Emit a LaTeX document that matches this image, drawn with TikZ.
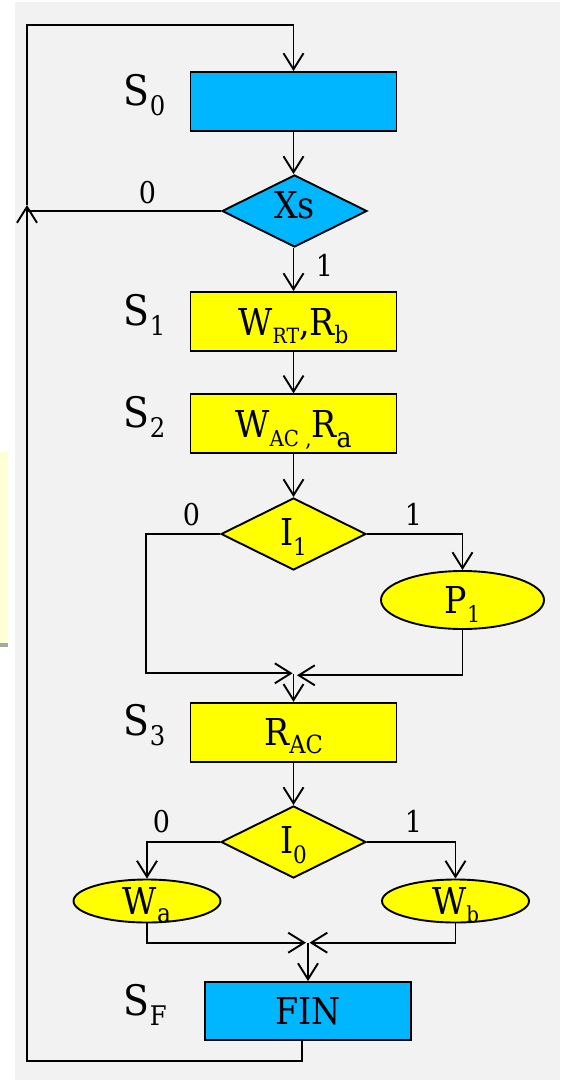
\documentclass[tikz,border=0pt]{standalone}
\usepackage{fontspec}
\setmainfont{DejaVu Serif Condensed}
\usetikzlibrary{arrows.meta,shapes.geometric}
\definecolor{bg}{HTML}{F2F2F2}
\definecolor{sky}{HTML}{00B7FF}
\definecolor{yel}{HTML}{FFFF00}
\definecolor{pale}{HTML}{FFFFD6}
\definecolor{edge}{HTML}{A8A8A8}
\newcommand\lowsub[3]{\raisebox{-#2pt}{\fontsize{#1}{#1}\selectfont #3}}
\begin{document}
\begin{tikzpicture}[x=1pt,y=-1pt,line width=1.9pt,
  arr/.style={-{Straight Barb[length=16pt,width=20pt]}},
  blk/.style={draw,minimum width=206pt,minimum height=59pt,inner sep=0pt,
    font=\fontsize{37}{40}\selectfont,text height=27pt,text depth=0pt},
  dia/.style={draw,diamond,aspect=2,minimum width=145pt,minimum height=72pt,inner sep=0pt,
    font=\fontsize{37}{40}\selectfont,text height=27pt},
  ell/.style={draw,ellipse,fill=yel,inner sep=0pt,
    font=\fontsize{37}{40}\selectfont,text height=27pt,text depth=0pt},
  stlab/.style={anchor=base west,inner sep=0pt,font=\fontsize{42}{44}\selectfont},
  bit/.style={anchor=base west,inner sep=0pt,font=\fontsize{30}{32}\selectfont}]
\useasboundingbox (0,0) rectangle (560,1081);
\fill[white] (0,0) rectangle (560,1081);
\fill[bg] (15,2) rectangle (560,1080);
\fill[pale] (0,452) rectangle (8,643);
\fill[edge] (0,643) rectangle (8,647);

% nodes
\node[blk,fill=sky] (s0) at (293.5,101.5) {};
\node[dia,fill=sky,text depth=13pt] (xs) at (294.5,211) {Xs};
\node[blk,fill=yel] (s1) at (293.5,321.5) {W\lowsub{21}{8}{RT},R\lowsub{24}{8}{b}};
\node[blk,fill=yel] (s2) at (293.5,423.8) {W\lowsub{22}{9}{AC ,}R\lowsub{28}{10}{a}};
\node[dia,fill=yel,text depth=5pt] (i1) at (293.5,534) {I\lowsub{24}{10}{1}};
\node[ell,minimum width=163pt,minimum height=58pt] (p1) at (462.5,600) {P\lowsub{23}{9}{1}};
\node[blk,fill=yel] (s3) at (293.5,732.3) {R\lowsub{25}{8}{AC}};
\node[dia,fill=yel,text depth=5pt] (i0) at (293.5,842) {I\lowsub{24}{10}{0}};
\node[ell,minimum width=147pt,minimum height=43pt] (wa) at (147,901) {W\lowsub{26}{8}{a}};
\node[ell,minimum width=147pt,minimum height=43pt] (wb) at (455.5,901) {W\lowsub{22}{8}{b}};
\node[blk,fill=sky,minimum height=58pt] (fin) at (308,1011) {FIN};

% state labels
\node[stlab] (l0) at (123,105) {S\lowsub{27}{10}{0}};
\node[stlab] (l1) at (123,325) {S\lowsub{27}{10}{1}};
\node[stlab] (l2) at (123,427) {S\lowsub{27}{10}{2}};
\node[stlab] (l3) at (123,735) {S\lowsub{27}{10}{3}};
\node[stlab] (lf) at (123,1015) {S\lowsub{27}{10}{F}};

% branch labels
\node[bit] (b0) at (138,203) {0};
\node[bit] (b1) at (315,276) {1};
\node[bit] (b2) at (182,525) {0};
\node[bit] (b3) at (404,525) {1};
\node[bit] (b4) at (152,832) {0};
\node[bit] (b5) at (404,832) {1};

% coordinates
\coordinate (tl) at (27,25);
\coordinate (tr) at (293.5,25);
\coordinate (up) at (27,205);
\coordinate (bl) at (27,1061);
\coordinate (br) at (301.6,1061);
\coordinate (xl) at (27,211);
\coordinate (c1) at (146,534);
\coordinate (c2) at (146,673.3);
\coordinate (t1) at (292.6,673.3);
\coordinate (t2) at (297,675.3);
\coordinate (j1) at (293.5,674);
\coordinate (t3) at (306,942.7);
\coordinate (t4) at (309.5,942.7);
\coordinate (j2) at (308,943);

% connectors
\draw[arr] (br |- fin.south) -- (br) -- (bl) -- (up);
\draw[arr] (up) -- (tl) -- (tr) -- (s0.north);
\draw (xs.west) -- (xl);
\draw[arr] (s0.south) -- (xs.north -| s0.south);
\draw[arr] (xs.south -| s1.north) -- (s1.north);
\draw[arr] (s1.south) -- (s2.north);
\draw[arr] (s2.south) -- (i1.north);
\draw[arr] (i1.west) -- (c1) -- (c2) -- (t1);
\draw[arr] (i1.east) -| (p1.north);
\draw[arr] (p1.south) |- (t2);
\draw[arr] (j1) -- (s3.north);
\draw[arr] (s3.south) -- (i0.north);
\draw[arr] (i0.west) -| (wa.north);
\draw[arr] (i0.east) -| (wb.north);
\draw[arr] (wa.south) |- (t3);
\draw[arr] (wb.south) |- (t4);
\draw[arr] (j2) -- (fin.north);
\end{tikzpicture}
\end{document}
